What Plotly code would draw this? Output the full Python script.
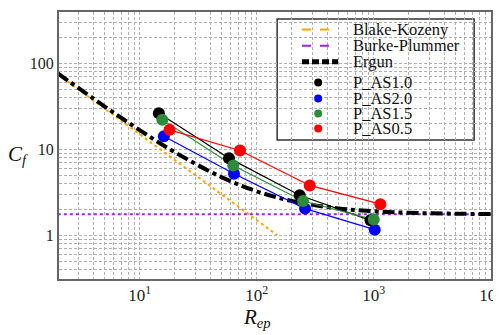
import plotly.graph_objects as go

# Theoretical curves
bk_x = [2, 150]
bk_y = [75, 1.0]
bp_x = [2, 10000]
bp_y = [1.75, 1.75]
erg_x = [2, 5, 10, 20, 50, 100, 200, 500, 1000, 2000, 5000, 10000]
erg_y = [76.75, 31.75, 16.75, 9.25, 4.75, 3.25, 2.5, 2.05, 1.9, 1.825, 1.78, 1.765]

# Experimental series
as10_x = [14.6, 58, 233, 938]
as10_y = [26.4, 7.9, 2.92, 1.49]
as20_x = [16.1, 64, 259, 1020]
as20_y = [14.2, 5.2, 2.04, 1.16]
as15_x = [15.6, 63, 249, 1000]
as15_y = [22.1, 6.5, 2.5, 1.52]
as05_x = [18, 72, 284, 1140]
as05_y = [16.9, 9.7, 3.8, 2.3]

# Axis ticks
x_major = [10, 100, 1000, 10000]
x_labels = ["10<sup>1</sup>", "10<sup>2</sup>", "10<sup>3</sup>", "10<sup>4</sup>"]
y_major = [1, 10, 100]
y_labels = ["1", "10", "100"]

# Legend entries
line_entries = [
    ("Blake-Kozeny", "orange", 2),
    ("Burke-Plummer", "#a020f0", 2),
    ("Ergun", "black", 5),
]
series = [
    ("P_AS1.0", as10_x, as10_y, "black"),
    ("P_AS2.0", as20_x, as20_y, "blue"),
    ("P_AS1.5", as15_x, as15_y, "#2e8b3a"),
    ("P_AS0.5", as05_x, as05_y, "red"),
]

def grid_vals(decades):
    return [m * d for d in decades for m in range(1, 10)]

x_grid = [v for v in grid_vals([1, 10, 100, 1000]) if 2 <= v <= 10000] + [10000]
y_grid = [v for v in grid_vals([0.1, 1, 10, 100]) if 0.3 <= v <= 400]

fig = go.Figure()
fig.add_trace(go.Scatter(x=bk_x, y=bk_y, mode="lines", showlegend=False,
                         line=dict(color="orange", dash="dot", width=2)))
fig.add_trace(go.Scatter(x=bp_x, y=bp_y, mode="lines", showlegend=False,
                         line=dict(color="#a020f0", dash="dot", width=2)))
fig.add_trace(go.Scatter(x=erg_x, y=erg_y, mode="lines", showlegend=False, line_shape="spline",
                         line=dict(color="black", dash="dashdot", width=4)))

for name, xs, ys, c in series:
    fig.add_trace(go.Scatter(x=xs, y=ys, mode="lines", showlegend=False,
                             line=dict(color=c, width=1.2)))
for name, xs, ys, c in series:
    fig.add_trace(go.Scatter(x=xs, y=ys, mode="markers", showlegend=False,
                             marker=dict(color=c, size=12)))

# ---- legend box (drawn on an auxiliary 0..1 axis pair) ----
box = dict(x0=0.505, x1=0.961, y0=0.521, y1=0.974)
row_y = [0.934, 0.874, 0.814, 0.736, 0.676, 0.620, 0.564]
sw_x0, sw_x1, mk_x, txt_x = 0.5625, 0.646, 0.600, 0.675

fig.add_shape(type="rect", xref="paper", yref="paper", layer="between",
              fillcolor="white", line=dict(color="#333", width=1.5), **box)

names = [e[0] for e in line_entries] + [s[0] for s in series]
for i, (name, c, w) in enumerate(line_entries):
    fig.add_trace(go.Scatter(x=[sw_x0, sw_x1], y=[row_y[i], row_y[i]], mode="lines",
                             xaxis="x2", yaxis="y2", showlegend=False, hoverinfo="skip",
                             line=dict(color=c, width=w, dash="dash" if w < 4 else "7px,3px")))
for j, (name, xs, ys, c) in enumerate(series):
    fig.add_trace(go.Scatter(x=[mk_x], y=[row_y[3 + j]], mode="markers",
                             xaxis="x2", yaxis="y2", showlegend=False, hoverinfo="skip",
                             marker=dict(color=c, size=8)))
for i, name in enumerate(names):
    fig.add_annotation(x=txt_x, y=row_y[i], xref="paper", yref="paper", text=name,
                       showarrow=False, xanchor="left", yanchor="middle",
                       font=dict(size=16.5, color="#111"))

# axis titles
fig.add_annotation(x=-0.095, y=0.465, xref="paper", yref="paper",
                   text="<i>C<sub>f</sub></i>", showarrow=False,
                   xanchor="center", yanchor="middle",
                   font=dict(size=21, color="#111"))
fig.add_annotation(x=0.458, y=-0.145, xref="paper", yref="paper",
                   text="<i>R<sub>ep</sub></i>", showarrow=False,
                   xanchor="center", yanchor="middle",
                   font=dict(size=21, color="#111"))

axis_common = dict(
    type="log", automargin=False,
    showgrid=True, gridcolor="#b0b0b0", griddash="3px,2px", gridwidth=1,
    showline=True, linecolor="#666", linewidth=2, mirror=True,
    ticks="", zeroline=False, ticklabeloverflow="allow",
)

x_text = [x_labels[x_major.index(v)] if v in x_major else "" for v in x_grid]
y_text = [y_labels[y_major.index(v)] if v in y_major else "" for v in y_grid]

fig.update_layout(
    template="none",
    width=493, height=327,
    margin=dict(l=51, r=10, t=4, b=56),
    paper_bgcolor="white", plot_bgcolor="white",
    font=dict(family="Liberation Serif", size=16, color="#222"),
    xaxis=dict(axis_common, range=[0.311, 4.002],
               tickvals=x_grid, ticktext=x_text, tickfont=dict(size=17)),
    yaxis=dict(axis_common, range=[-0.51, 2.6],
               tickvals=y_grid, ticktext=y_text, tickfont=dict(size=16)),
    xaxis2=dict(overlaying="x", range=[0, 1], visible=False, fixedrange=True),
    yaxis2=dict(overlaying="y", range=[0, 1], visible=False, fixedrange=True),
    showlegend=False,
)

fig.write_html("out.html")
